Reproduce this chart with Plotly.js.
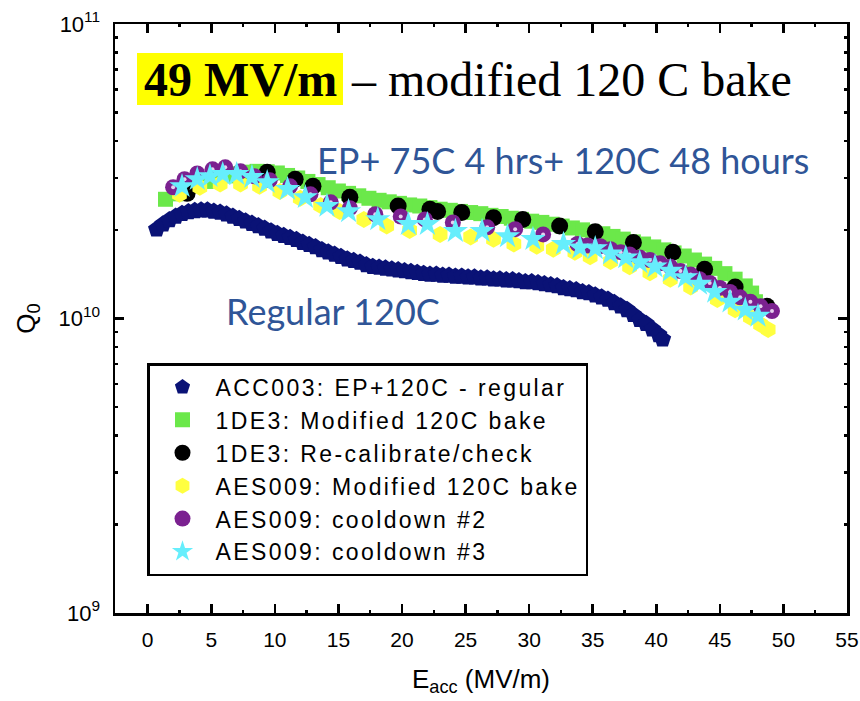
<!DOCTYPE html>
<html>
<head>
<meta charset="utf-8">
<script src="https://cdn.plot.ly/plotly-3.0.1.min.js"></script>
<style>
  html, body { margin: 0; padding: 0; background: #fff; }
  #chart { width: 860px; height: 701px; }
  .legendtext { letter-spacing: 2.4px; }
</style>
</head>
<body>
<div id="chart"></div>
<script>
// ---- Data (E_acc in MV/m, Q0 in units of 1e10) ----
const acc003E = [0.7,1.2,1.7,2.2,2.7,3.2,3.7,4.2,4.7,5.2,5.7,6.2,6.7,7.2,7.7,8.2,8.7,9.2,9.7,10.2,10.7,11.2,11.7,12.2,12.7,13.2,13.7,14.2,14.7,15.2,15.7,16.2,16.7,17.2,17.7,18.2,18.7,19.2,19.7,20.2,20.7,21.2,21.7,22.2,22.7,23.2,23.7,24.2,24.7,25.2,25.7,26.2,26.7,27.2,27.7,28.2,28.7,29.2,29.7,30.2,30.7,31.2,31.7,32.2,32.7,33.2,33.7,34.2,34.7,35.2,35.7,36.2,36.7,37.2,37.7,38.2,38.7,39.2,39.7,40.2,40.5];
const acc003Q = [2.01,2.09,2.16,2.22,2.27,2.30,2.32,2.33,2.33,2.31,2.29,2.26,2.22,2.18,2.14,2.10,2.06,2.02,1.98,1.94,1.91,1.88,1.85,1.81,1.78,1.75,1.71,1.68,1.65,1.62,1.59,1.57,1.55,1.52,1.50,1.49,1.48,1.47,1.46,1.45,1.44,1.43,1.42,1.41,1.41,1.40,1.40,1.39,1.39,1.38,1.38,1.37,1.37,1.36,1.36,1.35,1.35,1.34,1.33,1.33,1.32,1.31,1.30,1.29,1.27,1.26,1.25,1.23,1.22,1.20,1.18,1.16,1.13,1.10,1.07,1.03,0.99,0.96,0.92,0.88,0.85];

const de3ModE = [1.4,2.2,3.0,3.8,4.6,5.4,6.2,7.0,7.8,8.6,9.4,10.2,11.0,11.8,12.6,13.4,14.2,15.0,15.8,16.6,17.4,18.2,19.0,19.8,20.6,21.4,22.2,23.0,23.8,24.6,25.4,26.2,27.0,27.8,28.6,29.4,30.2,31.0,31.8,32.6,33.4,34.2,35.0,35.8,36.6,37.4,38.2,39.0,39.8,40.6,41.4,42.2,43.0,43.8,44.6,45.4,46.2,47.0,47.5,47.8];
const de3ModQ = [2.54,2.65,2.75,2.84,2.92,2.99,3.05,3.10,3.14,3.16,3.15,3.12,3.06,3.00,2.92,2.85,2.78,2.71,2.66,2.61,2.56,2.52,2.49,2.46,2.43,2.41,2.38,2.35,2.33,2.31,2.29,2.27,2.24,2.22,2.19,2.17,2.14,2.12,2.09,2.06,2.03,2.00,1.97,1.94,1.90,1.86,1.82,1.79,1.75,1.71,1.67,1.63,1.58,1.53,1.48,1.42,1.36,1.29,1.22,1.14];

const de3RecalE = [3.1,9.4,11.6,13.0,15.9,19.7,22.2,22.8,24.7,27.2,29.5,32.4,35.2,38.2,41.3,43.8,46.2,48.7];
const de3RecalQ = [2.66,3.14,2.97,2.81,2.58,2.41,2.35,2.31,2.29,2.20,2.17,2.06,1.97,1.81,1.68,1.47,1.28,1.10];

const aesModE = [2.5,4.1,5.7,7.3,8.8,10.4,12.0,13.6,15.1,17.0,18.8,20.6,23.0,25.4,27.2,28.8,30.6,31.9,33.6,34.8,36.4,37.9,39.5,41.1,42.7,44.8,46.2,47.4,48.2,48.8];
const aesModQ = [2.64,2.79,2.86,2.86,2.81,2.70,2.56,2.42,2.31,2.17,2.06,1.99,1.93,1.89,1.86,1.79,1.76,1.72,1.68,1.62,1.56,1.50,1.43,1.36,1.28,1.16,1.07,1.01,0.955,0.918];

const aesCd2E = [2.0,2.9,3.9,5.1,6.1,7.3,8.4,9.6,11.2,12.8,14.4,15.9,17.9,19.9,21.8,24.0,26.7,28.9,31.1,33.8,34.6,35.6,36.4,37.2,37.9,38.7,39.5,40.3,41.1,41.9,42.7,43.4,44.2,45.0,45.8,46.6,47.4,48.2,49.1];
const aesCd2Q = [2.79,2.97,3.11,3.21,3.26,3.16,3.04,2.95,2.81,2.64,2.48,2.37,2.26,2.22,2.17,2.12,2.04,2.01,1.93,1.79,1.77,1.76,1.72,1.68,1.65,1.61,1.58,1.54,1.50,1.45,1.41,1.36,1.32,1.27,1.23,1.18,1.14,1.10,1.06];

const aesCd3E = [2.7,3.9,4.9,5.9,7.0,8.2,9.4,11.0,12.4,14.1,15.8,18.1,20.5,22.0,24.2,26.3,28.3,30.3,32.7,34.0,35.2,36.4,37.6,38.7,39.9,41.1,42.3,43.4,44.6,45.8,47.0,48.0];
const aesCd3Q = [2.81,2.97,3.04,3.09,3.09,3.02,2.90,2.75,2.58,2.41,2.31,2.17,2.09,2.09,1.98,1.98,1.90,1.86,1.79,1.74,1.73,1.66,1.61,1.55,1.50,1.45,1.38,1.31,1.23,1.14,1.07,1.02];

const seriesNames = [
  'ACC003: EP+120C - regular',
  '1DE3: Modified 120C bake',
  '1DE3: Re-calibrate/check',
  'AES009: Modified 120C bake',
  'AES009: cooldown #2',
  'AES009: cooldown #3'
];
const yTickVals = [1e9, 1e10, 1e11];
const yTickText = ['10<sup>9</sup>', '10<sup>10</sup>', '10<sup>11</sup>'];
const yMinorTicks = [2e9,3e9,4e9,5e9,6e9,7e9,8e9,9e9,2e10,3e10,4e10,5e10,6e10,7e10,8e10,9e10];
const xTickVals = [0,5,10,15,20,25,30,35,40,45,50,55];
const xMinorTicks = [2.5,7.5,12.5,17.5,22.5,27.5,32.5,37.5,42.5,47.5,52.5];

const scale = v => v * 1e10;

function mk(x, y, name, symbol, color, size, extra) {
  return Object.assign({
    type: 'scatter', mode: 'markers', name: name,
    x: x, y: y.map(scale),
    marker: { symbol: symbol, color: color, size: size, line: { width: 0 } }
  }, extra || {});
}

const traces = [
  mk(acc003E, acc003Q, seriesNames[0], 'pentagon', '#0a1276', 18),
  mk(de3ModE, de3ModQ, seriesNames[1], 'square', '#6be84a', 15),
  mk(de3RecalE, de3RecalQ, seriesNames[2], 'circle', '#000000', 17),
  mk(aesModE, aesModQ, seriesNames[3], 'hexagon', '#ffff40', 17),
  mk(aesCd2E, aesCd2Q, seriesNames[4], 'circle', '#7b2190', 16),
  mk(aesCd2E, aesCd2Q, 'hl', 'circle', '#e6d0ee', 4, { showlegend: false, hoverinfo: 'skip' }),
  mk(aesCd3E, aesCd3Q, seriesNames[5], 'star', '#66eefc', 19)
];

const X0 = 115, W = 732, Y0 = 24, H = 589;
const px = v => (v - X0) / W;
const py = v => 1 - (v - Y0) / H;

const axisCommon = {
  showline: true, linecolor: '#000', linewidth: 2.5, mirror: 'ticks',
  ticks: 'inside', ticklen: 9, tickwidth: 2.5, tickcolor: '#000',
  showgrid: false, zeroline: false,
  tickfont: { family: 'Liberation Sans, Arial, sans-serif', size: 21, color: '#000' }
};

const layout = {
  width: 860, height: 701,
  margin: { l: X0, r: 860 - X0 - W, t: Y0, b: 701 - Y0 - H },
  paper_bgcolor: '#fff', plot_bgcolor: '#fff',
  showlegend: true,
  xaxis: Object.assign({}, axisCommon, {
    range: [-2.57, 55],
    tickmode: 'array', tickvals: xTickVals,
    minor: { tickmode: 'array', tickvals: xMinorTicks, ticks: 'inside', ticklen: 3, tickwidth: 2.5, tickcolor: '#000' },
    ticklabelstandoff: 6,
    title: { text: 'E<sub>acc</sub> (MV/m)', standoff: 20,
      font: { family: 'Liberation Sans, Arial, sans-serif', size: 26, color: '#000' } }
  }),
  yaxis: Object.assign({}, axisCommon, {
    type: 'log', range: [9, 11],
    tickmode: 'array', tickvals: yTickVals, ticktext: yTickText,
    minor: { tickmode: 'array', tickvals: yMinorTicks, ticks: 'inside', ticklen: 3, tickwidth: 2.5, tickcolor: '#000' },
    ticklabelstandoff: 8,
    tickfont: { family: 'Liberation Sans, Arial, sans-serif', size: 22, color: '#000' },
    title: { text: 'Q<sub>0</sub>', standoff: 16,
      font: { family: 'Liberation Sans, Arial, sans-serif', size: 26, color: '#000' } }
  }),
  legend: {
    x: px(147), y: py(363), xanchor: 'left', yanchor: 'top',
    bgcolor: '#fff', bordercolor: '#000', borderwidth: 2.5,
    font: { family: 'Liberation Sans, Arial, sans-serif', size: 23, color: '#000' },
    itemsizing: 'trace', itemwidth: 56
  },
  shapes: [{
    type: 'rect', xref: 'paper', yref: 'paper',
    x0: px(137), x1: px(343), y0: py(105), y1: py(53),
    fillcolor: '#ffff00', line: { width: 0 }, layer: 'above'
  }],
  annotations: [
    { xref: 'paper', yref: 'paper', x: px(240), y: py(79), xanchor: 'center', yanchor: 'middle',
      text: '<b>49 MV/m</b>', showarrow: false,
      font: { family: 'Liberation Serif, Times New Roman, serif', size: 48, color: '#000' } },
    { xref: 'paper', yref: 'paper', x: px(349), y: py(79), xanchor: 'left', yanchor: 'middle',
      text: '– modified 120 C bake', showarrow: false,
      font: { family: 'Liberation Serif, Times New Roman, serif', size: 48, color: '#000' } },
    { xref: 'paper', yref: 'paper', x: px(315), y: py(160), xanchor: 'left', yanchor: 'middle',
      text: 'EP+ 75C 4 hrs+ 120C 48 hours', showarrow: false,
      font: { family: 'Lato, Open Sans, sans-serif', size: 36, color: '#2f5597' } },
    { xref: 'paper', yref: 'paper', x: px(224), y: py(311), xanchor: 'left', yanchor: 'middle',
      text: 'Regular 120C', showarrow: false,
      font: { family: 'Lato, Open Sans, sans-serif', size: 36, color: '#2f5597' } }
  ]
};

Plotly.newPlot('chart', traces, layout, { displayModeBar: false, staticPlot: true });
</script>
</body>
</html>
